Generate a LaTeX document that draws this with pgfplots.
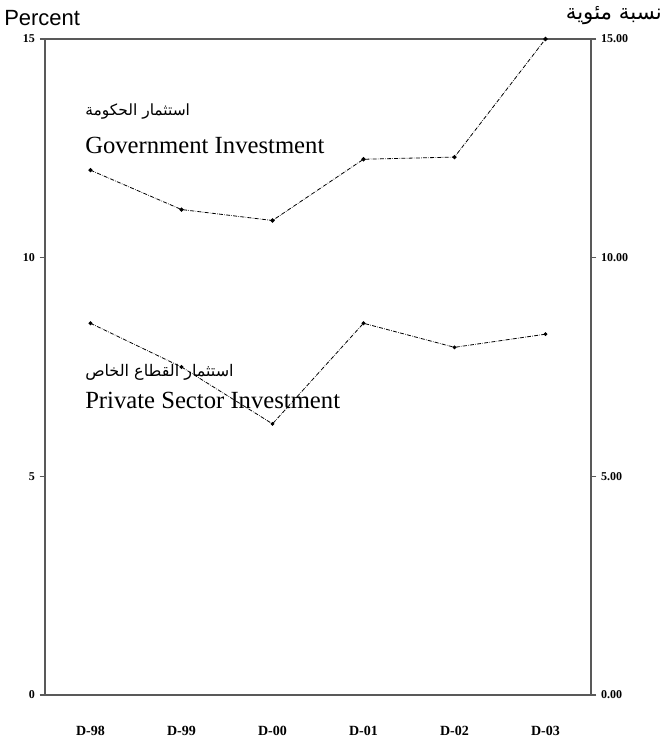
\documentclass[border=0pt]{standalone}
\usepackage{fontspec}
\usepackage{pgfplots}
\usepackage{pgfplotstable}
\pgfplotsset{compat=1.18}
\setmainfont{Liberation Serif}
\newfontfamily\arabicfont[Script=Arabic]{DejaVu Sans}
\newfontfamily\arial{Liberation Sans}
\TeXXeTstate=1

\pgfplotstableread{
x gov priv
0 12.0 8.5
1 11.1 7.5
2 10.85 6.2
3 12.25 8.5
4 12.3 7.95
5 15.0 8.25
}\datatable

\begin{document}
\begin{tikzpicture}[x=0.75pt,y=0.75pt]
\path[use as bounding box] (0,0) rectangle (668,742);
\pgfplotsset{
  common/.style={
    at={(33.75pt,35.25pt)}, anchor=south west,
    scale only axis, width=409.5pt, height=492pt,
    xmin=-0.5, xmax=5.5, ymin=0, ymax=15,
    ytick={0,5,10,15},
    axis line style={gray!70!black, line width=1.1pt},
    tick style={gray!70!black, line width=0.8pt},
    major tick length=4pt,
    tick align=outside,
  }
}
\begin{axis}[common,
  axis lines=box,
  ytick pos=left,
  xtick pos=bottom,
  xtick={0,1,2,3,4,5},
  xticklabels={D-98,D-99,D-00,D-01,D-02,D-03},
  xtick style={draw=none},
  extra x ticks={0.5,1.5,2.5,3.5,4.5},
  extra x tick labels={},
  extra x tick style={major tick length=4pt, tick style={draw=gray!70!black}},
  xticklabel style={font=\fontsize{10.5}{11}\selectfont\bfseries, yshift=-16pt},
  yticklabel style={font=\fontsize{9}{10}\selectfont\bfseries},
  /pgf/number format/assume math mode=true,
]
\addplot[black, densely dashdotted, line width=0.6pt, mark=*, mark size=1.3pt, mark options={solid}] table[x=x, y=gov] {\datatable};
\addplot[black, densely dashdotted, line width=0.6pt, mark=*, mark size=1.1pt, mark options={solid}] table[x=x, y=priv] {\datatable};
\end{axis}
\begin{axis}[common,
  axis x line=none,
  axis y line*=right,
  xtick=\empty,
  yticklabel={\pgfmathprintnumber[fixed,fixed zerofill,precision=2]{\tick}},
  yticklabel style={font=\fontsize{9}{10}\selectfont\bfseries},
  /pgf/number format/assume math mode=true,
]
\addplot[draw=none] coordinates {(0,0)};
\end{axis}
\node[anchor=west, inner sep=0pt, font=\arial\fontsize{16.5}{18}\selectfont] at (4,724) {Percent};
\node[anchor=east, inner sep=0pt, font=\arabicfont\fontsize{16}{18}\selectfont] at (662,726) {\beginR نسبة مئوية\endR};
\node[anchor=west, inner sep=0pt, font=\arabicfont\fontsize{11.6}{14}\selectfont] at (85,630) {\beginR استثمار الحكومة\endR};
\node[anchor=west, inner sep=0pt, font=\fontsize{18.5}{20}\selectfont] at (85,597) {Government Investment};
\node[anchor=west, inner sep=0pt, font=\arabicfont\fontsize{12}{14}\selectfont] at (85,370) {\beginR استثمار القطاع الخاص\endR};
\node[anchor=west, inner sep=0pt, font=\fontsize{18.5}{20}\selectfont] at (85,342) {Private Sector Investment};
\end{tikzpicture}
\end{document}
